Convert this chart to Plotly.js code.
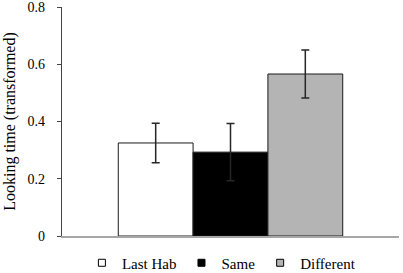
<!DOCTYPE html>
<html>
<head>
<meta charset="utf-8">
<script src="https://cdn.plot.ly/plotly-3.0.1.min.js"></script>
<style>html,body{margin:0;padding:0;background:#fff;}</style>
</head>
<body>
<div id="chart" style="width:403px;height:273px;"></div>
<script>
const categories = ["Last Hab", "Same", "Different"];
const values = [0.325, 0.293, 0.566];
const errors = [0.069, 0.100, 0.084];
const fills = ["#ffffff", "#000000", "#b4b4b4"];
const yTicks = [0, 0.2, 0.4, 0.6, 0.8];
const yTickLabels = ["0", "0.2", "0.4", "0.6", "0.8"];

const serif = "Liberation Serif";

const bars = categories.map((name, i) => ({
  type: "bar",
  name: name,
  x: [""],
  y: [values[i]],
  showlegend: false,
  marker: {color: fills[i], line: {color: "#1a1a1a", width: 1}},
  error_y: {type: "data", array: [errors[i]], visible: true, color: "#262626", thickness: 1.5, width: 4}
}));

// legend-only entries (no data drawn) so the legend keys are small squares as in the original
const keys = categories.map((name, i) => ({
  type: "scatter",
  mode: "markers",
  name: name,
  x: [null],
  y: [null],
  marker: {symbol: "square", size: 7, color: fills[i], line: {color: "#000", width: 1}},
  hoverinfo: "skip"
}));

const layout = {
  width: 403, height: 273,
  margin: {l: 62, r: 4, t: 7, b: 37, autoexpand: false},
  paper_bgcolor: "#fff", plot_bgcolor: "#fff",
  font: {family: serif, size: 14, color: "#000"},
  barmode: "group", bargap: 0.334, bargroupgap: 0,
  showlegend: true,
  legend: {orientation: "h", x: 0.473, xanchor: "center", y: -0.118, yanchor: "middle",
           font: {family: serif, size: 15, color: "#000"}, itemwidth: 30, traceorder: "normal"},
  xaxis: {showticklabels: false, showgrid: false, zeroline: false, showline: true,
          linecolor: "#a6a6a6", linewidth: 1.5, ticks: "", range: [-0.5, 0.5], fixedrange: true},
  yaxis: {range: [0, 0.8001], tickmode: "array", tickvals: yTicks, ticktext: yTickLabels,
          showgrid: false, zeroline: false,
          showline: true, linecolor: "#444", linewidth: 1.2, ticks: "outside", ticklen: 4, tickcolor: "#444",
          ticklabeloverflow: "allow", ticklabelstandoff: 9,
          tickfont: {family: serif, size: 14, color: "#000"},
          title: {text: "Looking time (transformed)", font: {family: serif, size: 16, color: "#000"}, standoff: 8}}
};

Plotly.newPlot("chart", bars.concat(keys), layout, {displayModeBar: false, staticPlot: true});
</script>
</body>
</html>
